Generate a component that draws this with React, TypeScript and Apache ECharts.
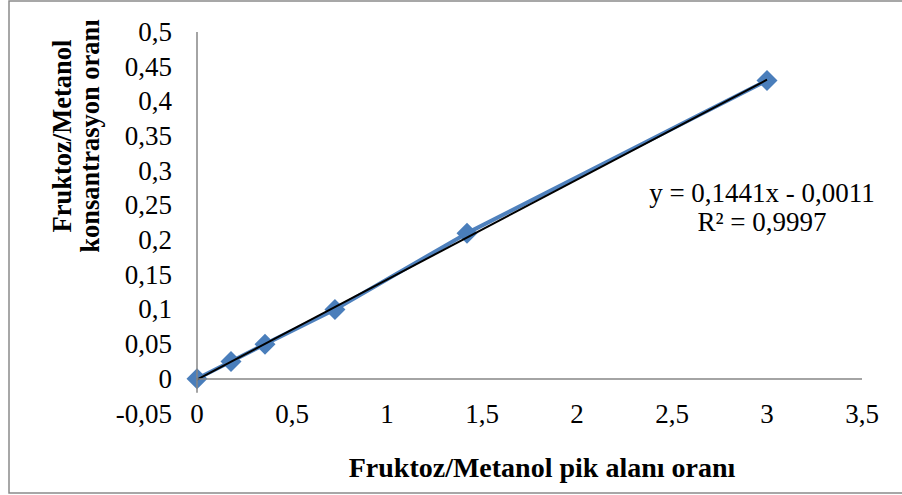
import React, { useEffect, useRef } from "react";
import * as echarts from "echarts";

// Fructose/methanol calibration points
const peakAreaRatio = [0, 0.179, 0.358, 0.726, 1.421, 3.0];
const concentrationRatio = [0, 0.025, 0.05, 0.1, 0.21, 0.43];

// Linear trendline y = slope * x + intercept
const slope = 0.1441;
const intercept = -0.0011;
const rSquared = "0,9997";

const xTitle = "Fruktoz/Metanol pik alanı oranı";
const yTitle = "Fruktoz/Metanol\nkonsantrasyon oranı";

const fmt = (v: number) => String(Math.round(v * 1000) / 1000).replace(".", ",");

export default function App() {
  const ref = useRef<HTMLDivElement>(null);

  useEffect(() => {
    if (!ref.current) return;
    const chart = echarts.init(ref.current, undefined, { renderer: "svg" });
    const font = "'Liberation Serif', 'Times New Roman', serif";
    const axisGray = "#868686";

    const points = peakAreaRatio.map((x, i) => [x, concentrationRatio[i]]);
    const xFirst = peakAreaRatio[0];
    const xLast = peakAreaRatio[peakAreaRatio.length - 1];
    const trend = [
      [xFirst, slope * xFirst + intercept],
      [xLast, slope * xLast + intercept],
    ];

    chart.setOption({
      animation: false,
      backgroundColor: "#ffffff",
      grid: { left: 197, right: 40, top: 32, bottom: 81.5 },
      xAxis: {
        type: "value",
        min: 0,
        max: 3.5,
        interval: 0.5,
        position: "bottom",
        axisLine: { show: false, onZero: false },
        axisTick: { show: false },
        splitLine: { show: false },
        axisLabel: {
          fontFamily: font,
          fontSize: 27,
          color: "#000",
          margin: 0,
          verticalAlign: "middle",
          formatter: fmt,
        },
      },
      yAxis: {
        type: "value",
        min: -0.05,
        max: 0.5,
        interval: 0.05,
        axisLine: { show: false },
        axisTick: { show: false },
        splitLine: { show: false },
        axisLabel: {
          fontFamily: font,
          fontSize: 27,
          color: "#000",
          margin: 25,
          formatter: fmt,
        },
      },
      graphic: [
        {
          type: "rect",
          shape: { x: 9, y: 1, width: 900, height: 492 },
          style: { fill: "none", stroke: "#8a8a8a", lineWidth: 1.5 },
          silent: true,
        },
        {
          type: "text",
          x: 542,
          y: 467,
          style: {
            text: xTitle,
            font: `bold 28px ${font}`,
            fill: "#000",
            align: "center",
            verticalAlign: "middle",
          },
        },
        {
          type: "text",
          x: 76,
          y: 136,
          rotation: Math.PI / 2,
          style: {
            text: yTitle,
            font: `bold 26.5px ${font}`,
            fill: "#000",
            align: "center",
            verticalAlign: "middle",
            lineHeight: 28,
          },
        },
        {
          type: "text",
          x: 762,
          y: 207.5,
          style: {
            text: `y = ${String(slope).replace(".", ",")}x - ${String(-intercept).replace(".", ",")}\nR² = ${rSquared}`,
            font: `27px ${font}`,
            fill: "#000",
            align: "center",
            verticalAlign: "middle",
            lineHeight: 29,
          },
        },
      ],
      series: [
        {
          type: "line",
          data: points,
          symbol: "diamond",
          symbolSize: 21,
          lineStyle: { color: "#4F81BD", width: 4 },
          itemStyle: { color: "#4A7EBB" },
          z: 2,
          markLine: {
            silent: true,
            symbol: "none",
            label: { show: false },
            lineStyle: { color: axisGray, width: 1.5, type: "solid" },
            data: [
              [{ coord: [0, 0] }, { coord: [3.5, 0] }],
              [{ coord: [0, -0.02] }, { coord: [0, 0.5] }],
            ],
          },
        },
        {
          type: "line",
          data: trend,
          symbol: "none",
          lineStyle: { color: "#000", width: 2 },
          z: 3,
        },
      ],
    });

    return () => chart.dispose();
  }, []);

  return (
    <div
      ref={ref}
      style={{ position: "fixed", left: 0, top: 0, width: 902, height: 495 }}
    />
  );
}
